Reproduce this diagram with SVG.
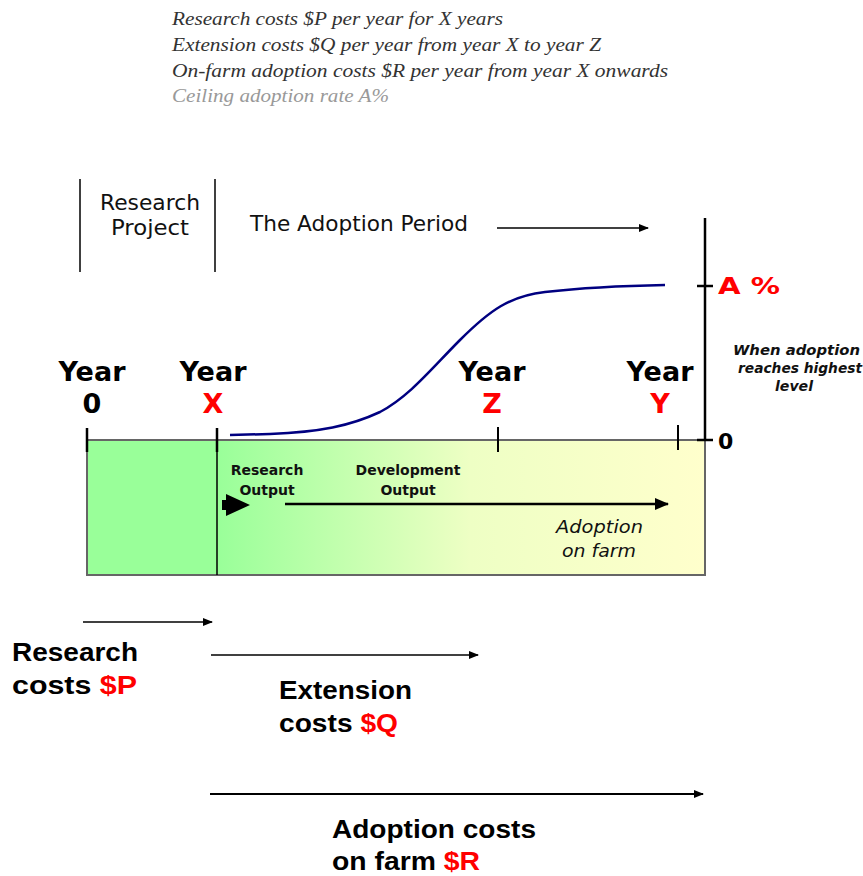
<svg xmlns="http://www.w3.org/2000/svg" width="863" height="876" viewBox="0 0 863 876">
<defs>
<linearGradient id="g" x1="87" y1="0" x2="705" y2="0" gradientUnits="userSpaceOnUse">
<stop offset="0" stop-color="#99FF99"/>
<stop offset="0.21" stop-color="#99FF99"/>
<stop offset="0.62" stop-color="#EEFFC4"/>
<stop offset="1" stop-color="#FFFFCC"/>
</linearGradient>
<marker id="ah" markerWidth="10" markerHeight="8" refX="9" refY="4" orient="auto" markerUnits="userSpaceOnUse">
<path d="M0,0 L10,4 L0,8 Z" fill="#000"/>
</marker>
<marker id="ah2" markerWidth="14" markerHeight="12" refX="13" refY="6" orient="auto" markerUnits="userSpaceOnUse">
<path d="M0,0 L14,6 L0,12 Z" fill="#000"/>
</marker>
</defs>
<style>
.note{font-family:"Liberation Serif",serif;font-style:italic;font-size:18px;fill:#333}
.hd{font-family:"DejaVu Sans",sans-serif;font-size:21px;fill:#111}
.yr{font-family:"DejaVu Sans","Liberation Sans",sans-serif;font-weight:bold;font-size:27px;fill:#000}
.red{fill:#FF0000}
.small{font-family:"DejaVu Sans","Liberation Sans",sans-serif;font-weight:bold;font-size:14px;fill:#111}
.it{font-family:"DejaVu Sans",sans-serif;font-style:italic;font-size:18px;fill:#111}
.hi{font-family:"DejaVu Sans",sans-serif;font-style:italic;font-weight:bold;font-size:14px;fill:#111}
.cost{font-family:"Liberation Sans",Arial,sans-serif;font-weight:bold;font-size:26px;fill:#000}
.ln{stroke:#000;fill:none}
</style>
<g id="notes">
<text class="note" x="172" y="25" textLength="331" lengthAdjust="spacingAndGlyphs">Research costs $P per year for X years</text>
<text class="note" x="172" y="51" textLength="429" lengthAdjust="spacingAndGlyphs">Extension costs $Q per year from year X to year Z</text>
<text class="note" x="172" y="77" textLength="496" lengthAdjust="spacingAndGlyphs">On-farm adoption costs $R per year from year X onwards</text>
<text class="note" x="172" y="102" style="fill:#999" textLength="217" lengthAdjust="spacingAndGlyphs">Ceiling adoption rate A%</text>
</g>
<g id="research-project">
<line class="ln" x1="80" y1="179" x2="80" y2="272" stroke="#555" stroke-width="1.5"/>
<line class="ln" x1="215" y1="179" x2="215" y2="272" stroke="#555" stroke-width="1.5"/>
<text class="hd" x="100" y="210" textLength="100" lengthAdjust="spacingAndGlyphs">Research</text>
<text class="hd" x="111" y="235" textLength="78" lengthAdjust="spacingAndGlyphs">Project</text>
</g>
<g id="adoption-period">
<text class="hd" x="250" y="231" textLength="218" lengthAdjust="spacingAndGlyphs">The Adoption Period</text>
</g>
<g id="box">
<rect x="87" y="440" width="618" height="135" fill="url(#g)" stroke="#666" stroke-width="2"/>
<line class="ln" x1="217" y1="440" x2="217" y2="575" stroke-width="1.5"/>
</g>
<g id="y-axis">
<line class="ln" x1="705" y1="218" x2="705" y2="440" stroke-width="2.5"/>
<line class="ln" x1="697" y1="286" x2="713" y2="286" stroke-width="2.5"/>
<line class="ln" x1="697" y1="440" x2="713" y2="440" stroke-width="2.5"/>
<text class="yr red" x="718" y="294" style="font-size:23px" textLength="62" lengthAdjust="spacingAndGlyphs">A %</text>
<text class="yr" x="718" y="449" style="font-size:22px">0</text>
</g>
<g id="highest">
<text class="hi" x="733" y="355" textLength="127" lengthAdjust="spacingAndGlyphs">When adoption</text>
<text class="hi" x="738" y="373" textLength="124" lengthAdjust="spacingAndGlyphs">reaches highest</text>
<text class="hi" x="775" y="391" textLength="38" lengthAdjust="spacingAndGlyphs">level</text>
</g>
<g id="year0">
<line class="ln" x1="87" y1="428" x2="87" y2="452" stroke-width="2.5"/>
<text class="yr" x="92" y="381" text-anchor="middle">Year</text>
<text class="yr" x="92" y="413" text-anchor="middle">0</text>
</g>
<g id="yearX">
<line class="ln" x1="217" y1="428" x2="217" y2="452" stroke-width="2.5"/>
<text class="yr" x="213" y="381" text-anchor="middle">Year</text>
<text class="yr red" x="213" y="413" text-anchor="middle">X</text>
</g>
<g id="yearZ">
<line class="ln" x1="498" y1="427" x2="498" y2="452" stroke-width="2"/>
<text class="yr" x="492" y="381" text-anchor="middle">Year</text>
<text class="yr red" x="492" y="413" text-anchor="middle">Z</text>
</g>
<g id="yearY">
<line class="ln" x1="678" y1="425" x2="678" y2="450" stroke-width="2"/>
<text class="yr" x="660" y="381" text-anchor="middle">Year</text>
<text class="yr red" x="660" y="413" text-anchor="middle">Y</text>
</g>
<g id="curve">
<path d="M230,435 L270,434 C320,432 350,426 380,412 C410,396 432,368 460,340 C490,310 510,296 545,292 C580,288 610,286 665,285" fill="none" stroke="#000080" stroke-width="2.5"/>
</g>
<g id="outputs">
<text class="small" x="267" y="475" text-anchor="middle">Research</text>
<text class="small" x="267" y="495" text-anchor="middle">Output</text>
<text class="small" x="408" y="475" text-anchor="middle">Development</text>
<text class="small" x="408" y="495" text-anchor="middle">Output</text>
<path d="M222,500 L226,500 L226,494 L250,505 L226,516 L226,510 L222,510 Z" fill="#000"/>
<text class="it" x="556" y="533" textLength="87" lengthAdjust="spacingAndGlyphs">Adoption</text>
<text class="it" x="562" y="557" textLength="74" lengthAdjust="spacingAndGlyphs">on farm</text>
</g>
<g id="connectors">
<line class="ln" x1="497" y1="228" x2="648" y2="228" stroke-width="1.5" marker-end="url(#ah)"/>
<line class="ln" x1="285" y1="504" x2="668" y2="504" stroke-width="2.5" marker-end="url(#ah2)"/>
<line class="ln" x1="83" y1="622" x2="212" y2="622" stroke-width="1.5" marker-end="url(#ah)"/>
<line class="ln" x1="211" y1="655" x2="478" y2="655" stroke-width="1.5" marker-end="url(#ah)"/>
<line class="ln" x1="210" y1="794" x2="703" y2="794" stroke-width="2" stroke="#333" marker-end="url(#ah)"/>
</g>
<g id="research-costs">
<text class="cost" x="12" y="661" textLength="126" lengthAdjust="spacingAndGlyphs">Research</text>
<text class="cost" x="12" y="694" textLength="125" lengthAdjust="spacingAndGlyphs">costs <tspan class="red">$P</tspan></text>
</g>
<g id="extension-costs">
<text class="cost" x="279" y="699" textLength="133" lengthAdjust="spacingAndGlyphs">Extension</text>
<text class="cost" x="279" y="732" textLength="119" lengthAdjust="spacingAndGlyphs">costs <tspan class="red">$Q</tspan></text>
</g>
<g id="adoption-costs">
<text class="cost" x="332" y="838" textLength="204" lengthAdjust="spacingAndGlyphs">Adoption costs</text>
<text class="cost" x="332" y="870" textLength="148" lengthAdjust="spacingAndGlyphs">on farm <tspan class="red">$R</tspan></text>
</g>
</svg>
